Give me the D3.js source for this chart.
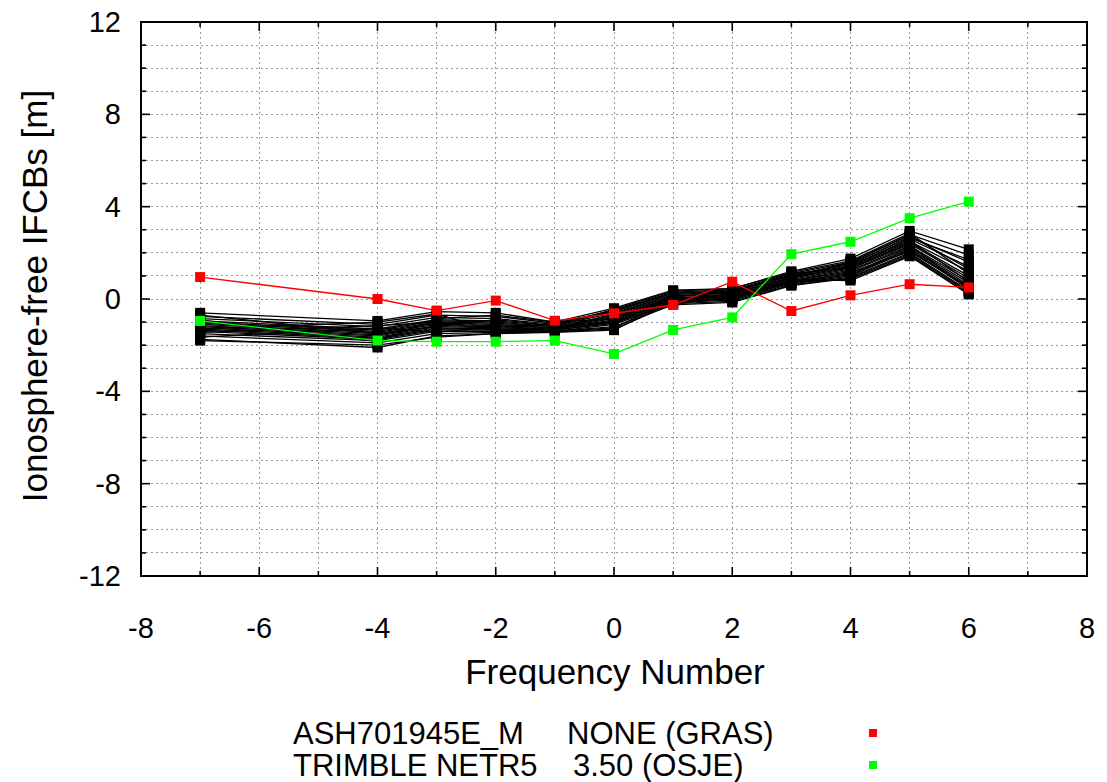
<!DOCTYPE html>
<html>
<head>
<meta charset="utf-8">
<script src="https://cdn.jsdelivr.net/npm/d3@7"></script>
<style>
  html, body { margin: 0; padding: 0; background: #fff; }
  svg { display: block; }
  text { font-family: "Liberation Sans", Arial, Helvetica, sans-serif; fill: #000; }
</style>
</head>
<body>
<svg id="chart" width="1107" height="782"></svg>
<script>
// Frequency numbers (GLONASS channels) where biases were estimated
const freqs = [-7, -4, -3, -2, -1, 0, 1, 2, 3, 4, 5, 6];

// Inter-frequency code biases per station [m], one array per station
const stationsBlack = [
  [-0.60, -0.95, -0.55, -0.60, -1.00, -0.40, 0.38, 0.45, 1.20, 1.75, 2.95, 2.15],
  [-0.75, -1.10, -0.70, -0.75, -1.05, -0.50, 0.30, 0.40, 1.10, 1.60, 2.80, 1.90],
  [-0.85, -1.20, -0.80, -0.85, -1.10, -0.55, 0.25, 0.35, 1.05, 1.50, 2.70, 1.60],
  [-0.95, -1.30, -0.90, -0.95, -1.15, -0.60, 0.20, 0.30, 1.00, 1.45, 2.60, 1.40],
  [-1.00, -1.35, -0.95, -1.00, -1.20, -0.70, 0.15, 0.25, 0.95, 1.40, 2.50, 1.20],
  [-1.05, -1.40, -1.00, -1.05, -1.20, -0.75, 0.10, 0.20, 0.90, 1.35, 2.45, 1.00],
  [-1.10, -1.45, -1.05, -1.10, -1.25, -0.80, 0.05, 0.15, 0.85, 1.30, 2.40, 0.90],
  [-1.15, -1.50, -1.10, -1.15, -1.25, -0.85, 0.00, 0.10, 0.80, 1.25, 2.30, 0.80],
  [-1.20, -1.55, -1.15, -1.20, -1.30, -0.90, 0.00, 0.05, 0.78, 1.20, 2.25, 0.70],
  [-1.25, -1.60, -1.20, -1.25, -1.30, -0.95, -0.05, 0.00, 0.75, 1.10, 2.20, 0.60],
  [-1.30, -1.65, -1.25, -1.30, -1.35, -1.00, -0.10, 0.00, 0.70, 1.05, 2.15, 0.50],
  [-1.35, -1.70, -1.30, -1.30, -1.35, -1.05, -0.15, -0.05, 0.65, 1.00, 2.10, 0.45],
  [-1.40, -1.75, -1.35, -1.35, -1.40, -1.10, -0.20, -0.10, 0.60, 0.95, 2.00, 0.35],
  [-1.50, -1.80, -1.40, -1.40, -1.40, -1.20, -0.25, -0.15, 0.58, 0.90, 1.95, 0.30],
  [-1.60, -1.90, -1.50, -1.45, -1.42, -1.30, -0.20, 0.05, 0.75, 0.85, 1.90, 0.25],
  [-1.75, -2.10, -1.60, -1.50, -1.45, -1.35, -0.10, 0.10, 0.85, 0.80, 1.85, 0.20],
  [-0.70, -1.50, -1.20, -0.90, -1.15, -0.45, 0.35, 0.45, 1.15, 1.65, 2.85, 1.10],
  [-1.30, -1.00, -0.65, -1.40, -1.30, -0.65, 0.20, 0.35, 1.00, 1.55, 2.65, 1.70],
  [-1.65, -1.25, -1.45, -1.20, -1.10, -0.50, 0.28, 0.25, 0.90, 1.45, 2.55, 0.75],
  [-0.90, -1.85, -0.85, -0.70, -1.00, -0.85, 0.10, 0.30, 1.10, 1.35, 2.35, 0.40],
  [-1.45, -1.15, -1.00, -1.35, -1.25, -1.00, 0.00, 0.20, 0.95, 1.60, 2.75, 1.30],
  [-1.80, -2.00, -1.65, -1.50, -1.40, -1.25, -0.05, 0.15, 0.70, 1.15, 2.05, 0.55]
];

// Highlighted stations
const grasValues = [0.95, 0.00, -0.50, -0.07, -0.94, -0.62, -0.26, 0.75, -0.52, 0.16, 0.64, 0.50];
const osjeValues = [-0.95, -1.80, -1.85, -1.85, -1.80, -2.38, -1.34, -0.80, 1.94, 2.48, 3.50, 4.22];

const legendRows = [
  { name: "ASH701945E_M", info: "NONE (GRAS)", color: "#ff0000" },
  { name: "TRIMBLE NETR5", info: "3.50 (OSJE)", color: "#00ff00" }
];

const xTickLabels = [-8, -6, -4, -2, 0, 2, 4, 6, 8];
const yTickLabels = [-12, -8, -4, 0, 4, 8, 12];

const svg = d3.select("#chart");
const plotL = 141, plotR = 1087, plotT = 22, plotB = 576;
const x = d3.scaleLinear().domain([-8, 8]).range([plotL, plotR]);
const y = d3.scaleLinear().domain([-12, 12]).range([plotB, plotT]);

const allX = d3.range(-8, 9, 1);
const allY = d3.range(-12, 13, 1);

// dotted grid at every integer
const grid = svg.append("g").attr("class", "grid");
grid.selectAll("line.gx").data(allX.filter(v => v > -8 && v < 8)).join("line")
  .attr("class", "gx")
  .attr("x1", d => x(d)).attr("x2", d => x(d))
  .attr("y1", plotT).attr("y2", plotB);
grid.selectAll("line.gy").data(allY.filter(v => v > -12 && v < 12)).join("line")
  .attr("class", "gy")
  .attr("y1", d => y(d)).attr("y2", d => y(d))
  .attr("x1", plotL).attr("x2", plotR);
grid.selectAll("line")
  .attr("stroke", "#999").attr("stroke-width", 1)
  .attr("stroke-dasharray", "1.5,3.5")
  .attr("shape-rendering", "crispEdges");

// inward ticks on all four sides
const majorLen = 9, minorLen = 5;
const tickLen = (v, step) => (v % step === 0 ? majorLen : minorLen);
const ticks = svg.append("g").attr("stroke", "#000").attr("stroke-width", 1.6);
allX.forEach(v => {
  const L = tickLen(v, 2);
  ticks.append("line").attr("x1", x(v)).attr("x2", x(v)).attr("y1", plotB).attr("y2", plotB - L);
  ticks.append("line").attr("x1", x(v)).attr("x2", x(v)).attr("y1", plotT).attr("y2", plotT + L);
});
allY.forEach(v => {
  const L = tickLen(v, 4);
  ticks.append("line").attr("y1", y(v)).attr("y2", y(v)).attr("x1", plotL).attr("x2", plotL + L);
  ticks.append("line").attr("y1", y(v)).attr("y2", y(v)).attr("x1", plotR).attr("x2", plotR - L);
});

// frame
svg.append("rect")
  .attr("x", plotL).attr("y", plotT)
  .attr("width", plotR - plotL).attr("height", plotB - plotT)
  .attr("fill", "none").attr("stroke", "#000").attr("stroke-width", 2);

// tick labels
svg.append("g").selectAll("text").data(xTickLabels).join("text")
  .attr("x", d => x(d)).attr("y", 638)
  .attr("text-anchor", "middle")
  .attr("font-size", 29)
  .text(d => d);
svg.append("g").selectAll("text").data(yTickLabels).join("text")
  .attr("x", 121).attr("y", d => y(d) + 10)
  .attr("text-anchor", "end")
  .attr("font-size", 29)
  .text(d => d);

// axis titles
svg.append("text")
  .attr("x", 615).attr("y", 684)
  .attr("text-anchor", "middle").attr("font-size", 35)
  .text("Frequency Number");
svg.append("text")
  .attr("transform", "translate(47,296) rotate(-90)")
  .attr("text-anchor", "middle").attr("font-size", 35)
  .text("Ionosphere-free IFCBs [m]");

// series
const line = d3.line().x((d, i) => x(freqs[i])).y(d => y(d));
const marker = 10;

function drawSeries(values, color, width) {
  const g = svg.append("g");
  g.append("path").datum(values)
    .attr("d", line).attr("fill", "none")
    .attr("stroke", color).attr("stroke-width", width);
  g.selectAll("rect").data(values).join("rect")
    .attr("x", (d, i) => x(freqs[i]) - marker / 2)
    .attr("y", d => y(d) - marker / 2)
    .attr("width", marker).attr("height", marker)
    .attr("fill", color);
}

stationsBlack.forEach(s => drawSeries(s, "#000", 1.3));
drawSeries(grasValues, "#ff0000", 1.3);
drawSeries(osjeValues, "#00ff00", 1.3);

// legend
const legend = svg.append("g");
legendRows.forEach((r, i) => {
  const cy = 733 + i * 32;
  legend.append("text").attr("x", 293).attr("y", cy + 11).attr("font-size", 31).text(r.name);
  legend.append("text").attr("x", i === 0 ? 567 : 573).attr("y", cy + 11).attr("font-size", 31).text(r.info);
  legend.append("rect").attr("x", 869).attr("y", cy - 4).attr("width", 8).attr("height", 8).attr("fill", r.color);
});
</script>
</body>
</html>
